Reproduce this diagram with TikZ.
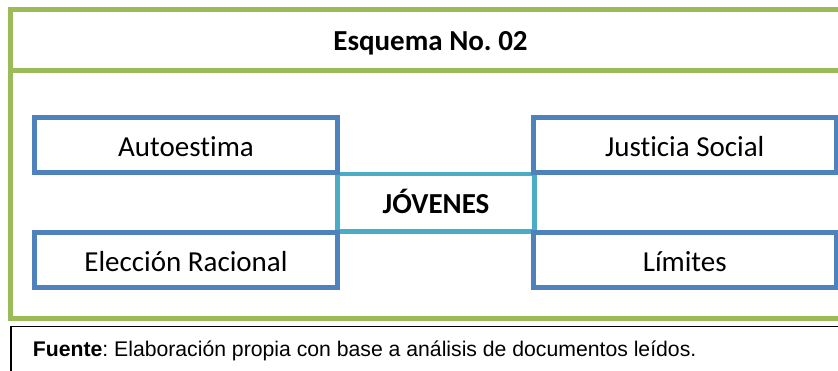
\documentclass[tikz,border=0pt]{standalone}
\usepackage{fontspec}
\setmainfont{Carlito}[RawFeature=-liga]
\newfontfamily\arialfont{Liberation Sans}
\frenchspacing
\definecolor{frameg}{HTML}{9BBB59}
\definecolor{boxblue}{HTML}{4F81BD}
\definecolor{boxteal}{HTML}{4BACC6}
\tikzset{
  bigfont/.style={font=\fontsize{29}{34}\selectfont},
  conceptbox/.style={draw=boxblue, line width=5pt, minimum width=303pt, minimum height=55pt,
    inner sep=0pt, bigfont, text height=23.7pt, text depth=0pt},
  centerbox/.style={draw=boxteal, line width=4.5pt, minimum width=197pt, minimum height=57.5pt,
    inner sep=0pt, font=\bfseries\fontsize{29}{34}\selectfont, text height=22pt, text depth=0pt},
  greenline/.style={draw=frameg, line width=5pt},
}
\begin{document}
\begin{tikzpicture}[x=1pt,y=-1pt]
\useasboundingbox (0,0) rectangle (838,370);
% outer green frame and header divider
\draw[greenline] (10.5,9.5) rectangle (860,318.5);
\draw[greenline] (10.5,70.5) -- (860,70.5);
% footer frame
\draw[black, line width=1.5pt] (11,326.5) rectangle (860,400);
% title
\node[anchor=base, inner sep=0pt, font=\bfseries\fontsize{29}{34}\selectfont] (title) at (430.5,50) {Esquema No. 02};
% central node
\node[centerbox] (jov) at (436,202.75) {JÓVENES};
% concept boxes
\node[conceptbox] (auto) at (186,145) {Autoestima};
\node[conceptbox, minimum width=302.5pt] (just) at (684.75,145) {Justicia Social};
\node[conceptbox] (elec) at (186,260) {Elección Racional};
\node[conceptbox, minimum width=302.5pt] (lim) at (684.75,260) {Límites};
% source
\node[anchor=base west, inner sep=0pt, font=\arialfont\fontsize{21.2}{25}\selectfont] (src) at (32.7,356.7)
  {\textbf{Fuente}: Elaboración propia con base a análisis de documentos leídos.};
\end{tikzpicture}
\end{document}
